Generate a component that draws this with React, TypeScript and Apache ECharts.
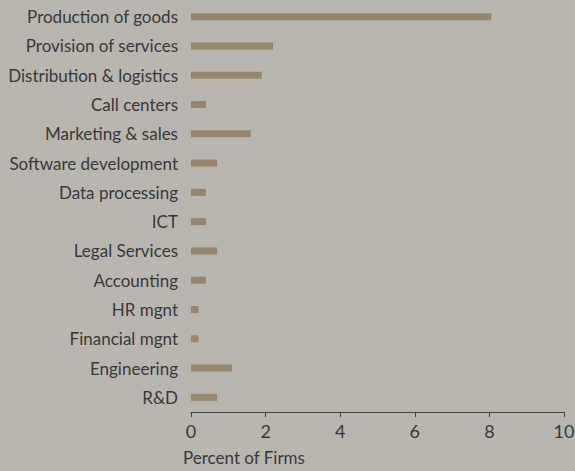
import React, { useEffect, useRef } from "react";
import * as echarts from "echarts";

const categories = [
  "Production of goods",
  "Provision of services",
  "Distribution & logistics",
  "Call centers",
  "Marketing & sales",
  "Software development",
  "Data processing",
  "ICT",
  "Legal Services",
  "Accounting",
  "HR mgnt",
  "Financial mgnt",
  "Engineering",
  "R&D",
];
const values = [8.05, 2.2, 1.9, 0.4, 1.6, 0.7, 0.4, 0.4, 0.7, 0.4, 0.2, 0.2, 1.1, 0.7];
const xTicks = [0, 2, 4, 6, 8, 10];

export default function App() {
  const ref = useRef<HTMLDivElement>(null);
  useEffect(() => {
    const chart = echarts.init(ref.current!, null, { renderer: "svg" });
    const font = "Lato";
    chart.setOption({
      animation: false,
      backgroundColor: "#b9b6b0",
      grid: {
        left: 191,
        right: 11,
        top: 2,
        bottom: 59,
        containLabel: false,
        outerBoundsMode: "none",
      },
      xAxis: {
        type: "value",
        min: xTicks[0],
        max: xTicks[xTicks.length - 1],
        interval: 2,
        splitLine: { show: false },
        axisLine: { show: true, lineStyle: { color: "#454545", width: 1 } },
        axisTick: { show: true, length: 5, lineStyle: { color: "#454545" } },
        axisLabel: { color: "#383838", fontFamily: font, fontSize: 18, margin: 10 },
      },
      yAxis: {
        type: "category",
        data: categories,
        inverse: true,
        axisLine: { show: false },
        axisTick: { show: false },
        axisLabel: { color: "#383838", fontFamily: font, fontSize: 17, margin: 13 },
      },
      graphic: [
        {
          type: "text",
          left: 183,
          top: 449,
          style: { text: "Percent of Firms", fill: "#383838", font: `17px ${font}` },
        },
      ],
      series: [
        {
          type: "bar",
          data: values,
          barWidth: 7,
          itemStyle: { color: "#968670" },
        },
      ],
    });
    return () => chart.dispose();
  }, []);
  return <div ref={ref} style={{ position: "fixed", left: 0, top: 0, width: 575, height: 471 }} />;
}
